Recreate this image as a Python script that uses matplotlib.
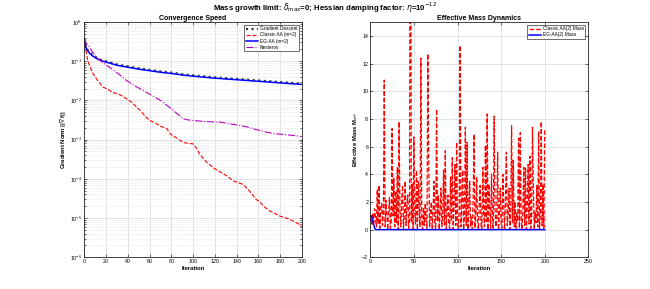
import matplotlib
matplotlib.use("Agg")
import matplotlib.pyplot as plt
import numpy as np
from matplotlib.ticker import LogLocator, NullFormatter, MultipleLocator, FixedLocator

plt.rcParams['font.family'] = ['Liberation Sans', 'DejaVu Sans']
plt.rcParams['mathtext.fontset'] = 'dejavusans'

# ---------------- Left panel data (convergence) ----------------
gd_iter = [0, 1, 2, 3, 5, 8, 12, 16, 20, 25, 30, 40, 50, 60, 70, 80, 90, 100, 120, 140, 160, 180, 200]
gd_vals = [0.38, 0.263, 0.219, 0.195, 0.166, 0.141, 0.120, 0.107, 0.100, 0.0912, 0.0832, 0.0741,
           0.0661, 0.0603, 0.0550, 0.0513, 0.0468, 0.0437, 0.0389, 0.0355, 0.0324, 0.0295, 0.0269]
egaa_vals = [0.37, 0.25, 0.208, 0.185, 0.158, 0.134, 0.114, 0.102, 0.095, 0.0866, 0.079, 0.0704,
             0.0628, 0.0573, 0.0523, 0.0487, 0.0445, 0.0415, 0.037, 0.0337, 0.0308, 0.028, 0.0256]

aa_iter = [0, 1, 2, 3, 5, 8, 12, 17, 22, 26, 30, 35, 39, 44, 48, 52, 57, 60, 65, 70, 76, 79, 85,
           91, 96, 100, 103, 106, 110, 113, 119, 125, 131, 137, 146, 152, 158, 162, 165, 171, 180,
           189, 198, 200]
aa_vals = [0.38, 0.22, 0.16, 0.11, 0.075, 0.048, 0.033, 0.022, 0.019, 0.016, 0.015, 0.013, 0.011,
           0.0088, 0.0068, 0.0053, 0.0037, 0.0031, 0.0027, 0.0022, 0.0019, 0.0014, 0.0011,
           0.00085, 0.00080, 0.00078, 0.00062, 0.00043, 0.00032, 0.00026, 0.00019, 0.00015,
           0.00012, 0.000089, 0.000072, 0.000049, 0.000030, 0.000025, 0.000020, 0.000015,
           0.0000112, 0.0000093, 0.0000069, 0.0000059]

nes_iter = [0, 1, 2, 4, 7, 10, 14, 20, 27, 33, 39, 46, 54, 62, 70, 76, 82, 87, 91, 95, 100, 110,
            125, 135, 143, 150, 155, 162, 170, 177, 190, 200]
nes_vals = [0.38, 0.32, 0.28, 0.25, 0.18, 0.14, 0.107, 0.08, 0.059, 0.044, 0.032, 0.024, 0.018,
            0.0135, 0.010, 0.0075, 0.0055, 0.0042, 0.0034, 0.0032, 0.0031, 0.0029, 0.0028,
            0.0025, 0.0023, 0.0021, 0.0019, 0.0017, 0.0015, 0.0014, 0.0013, 0.0012]

left_yticks = [1e-6, 1e-5, 1e-4, 1e-3, 1e-2, 1e-1, 1e0]

# ---------------- Right panel data (effective mass) ----------------
aa_mass = [0.6, 0.9, 0.3, 1.2, 0.5, 1.5, 0.8, 0.2, 2.9, 0.4,
           3.2, 0.1, 1.6, 1.9, 0.3, 1.2, 10.8, 0.2, 2.1, 1.0,
           0.0, 1.4, 2.3, 0.1, 0.6, 7.3, 1.0, 3.7, 0.2, 2.8,
           0.5, 4.5, 0.0, 7.8, 1.3, 0.2, 2.0, 3.2, 0.0, 1.1,
           3.5, 0.3, 1.8, 2.5, 0.1, 1.0, 40.0, 0.5, 3.3, 0.0,
           6.7, 1.2, 0.4, 4.3, 0.0, 3.5, 1.5, 0.2, 12.4, 0.8,
           0.0, 1.6, 0.3, 1.9, 0.6, 0.1, 12.7, 4.7, 0.2, 1.1,
           2.0, 0.0, 1.4, 3.5, 0.4, 0.0, 8.7, 0.6, 2.5, 0.0,
           1.3, 3.0, 0.2, 0.9, 4.3, 0.3, 5.7, 0.0, 1.2, 2.5,
           0.4, 0.1, 3.8, 0.6, 5.2, 0.0, 1.7, 4.7, 0.3, 6.3,
           0.5, 0.0, 1.5, 13.3, 0.2, 1.8, 4.3, 0.0, 1.0, 7.4,
           0.3, 6.3, 0.0, 1.5, 3.5, 0.2, 0.9, 0.0, 2.4, 6.9,
           0.1, 1.1, 3.8, 0.4, 0.0, 1.9, 3.2, 0.3, 0.0, 4.5,
           1.2, 0.2, 6.1, 0.6, 8.35, 0.0, 3.3, 1.4, 0.1, 4.0,
           0.7, 0.0, 8.2, 1.6, 0.2, 0.8, 5.6, 0.0, 1.3, 3.0,
           0.4, 0.1, 4.0, 1.8, 0.0, 2.2, 5.6, 0.3, 1.0, 3.0,
           0.0, 1.4, 7.5, 0.5, 5.0, 0.2, 2.0, 0.0, 1.2, 0.6,
           6.6, 0.1, 7.0, 0.8, 0.0, 1.5, 4.5, 0.3, 4.5, 0.0,
           1.7, 4.7, 0.4, 5.3, 0.1, 1.0, 7.4, 3.0, 0.0, 1.3,
           0.5, 3.2, 0.2, 7.1, 0.0, 1.2, 7.8, 0.3, 3.3, 0.0,
           7.2]
eg_mass_head = [1.0, 1.0, 0.85, 0.6, 0.35, 0.1]
mass_iter = list(range(len(aa_mass)))
eg_mass = eg_mass_head + [0.0] * (len(aa_mass) - len(eg_mass_head))
ref_level = [1.0] * len(aa_mass)

# ---------------- Figure ----------------
fig = plt.figure(figsize=(6.5, 2.89), dpi=100)
ax1 = fig.add_axes([0.1297, 0.1097, 0.3345, 0.8142])
ax2 = fig.add_axes([0.5697, 0.1097, 0.3354, 0.8142])

tick_fs = 3.8
lab_fs = 4.2

# Left panel
ax1.semilogy(gd_iter, gd_vals, ':', color='#333333', lw=1.5, label='Gradient Descent')
ax1.semilogy(aa_iter, aa_vals, '--', color='r', lw=0.8, label='Classic AA (m=2)')
ax1.semilogy(gd_iter, egaa_vals, '-', color='b', lw=1.1, label='EG-AA (m=2)')
ax1.semilogy(nes_iter, nes_vals, '-.', color='m', lw=0.8, label='Nesterov')
ax1.set_xlim(0, 200)
ax1.set_ylim(1e-6, 1e0)
ax1.xaxis.set_major_locator(MultipleLocator(20))
ax1.yaxis.set_major_locator(FixedLocator(left_yticks))
ax1.yaxis.set_minor_locator(LogLocator(base=10, subs=np.arange(2, 10), numticks=10))
ax1.yaxis.set_minor_formatter(NullFormatter())
ax1.grid(True, which='major', color='#d9d9d9', lw=0.5)
ax1.grid(True, which='minor', axis='y', color='#e3e3e3', lw=0.4, ls='--')
ax1.set_title('Convergence Speed', fontsize=5, fontweight='bold', pad=1.5)
ax1.set_xlabel('Iteration', fontsize=lab_fs, fontweight='bold', labelpad=1.5)
ax1.set_ylabel(r'Gradient Norm ||$\nabla$ f||', fontsize=lab_fs, fontweight='bold', labelpad=1.5)
leg1 = ax1.legend(loc='upper right', fontsize=3.4, frameon=True, fancybox=False,
                  edgecolor='k', borderpad=0.3, labelspacing=0.25, handlelength=2.6,
                  handletextpad=0.4, borderaxespad=0.6)
leg1.get_frame().set_linewidth(0.5)

# Right panel
ax2.plot(mass_iter, ref_level, '--', color='#999999', lw=0.5, alpha=0.6)
ax2.plot(mass_iter, aa_mass, '--', color='r', lw=0.9, label='Classic AA(2) Mass')
ax2.plot(mass_iter, eg_mass, '-', color='b', lw=1.1, label='EG-AA(2) Mass')
ax2.set_xlim(0, 250)
ax2.set_ylim(-2, 15)
ax2.xaxis.set_major_locator(MultipleLocator(50))
ax2.yaxis.set_major_locator(FixedLocator([-2, 0, 2, 4, 6, 8, 10, 12, 14]))
ax2.grid(True, which='major', color='#d9d9d9', lw=0.5)
ax2.set_title('Effective Mass Dynamics', fontsize=5, fontweight='bold', pad=1.5)
ax2.set_xlabel('Iteration', fontsize=lab_fs, fontweight='bold', labelpad=1.5)
ax2.set_ylabel(r'Effective Mass M$_{eff}$', fontsize=lab_fs, fontweight='bold', labelpad=1.5)
leg2 = ax2.legend(loc='upper right', fontsize=3.4, frameon=True, fancybox=False,
                  edgecolor='k', borderpad=0.3, labelspacing=0.25, handlelength=2.6,
                  handletextpad=0.4, borderaxespad=0.6)
leg2.get_frame().set_linewidth(0.5)

for ax in (ax1, ax2):
    ax.tick_params(which='both', direction='in', top=True, right=True, labelsize=tick_fs,
                   pad=1.5, width=0.4)
    ax.tick_params(which='major', length=2.5)
    ax.tick_params(which='minor', length=1.3)
    ax.set_axisbelow(True)
    for s in ax.spines.values():
        s.set_linewidth(0.6)
        s.set_color('#262626')

fig.text(0.5, 0.997,
         r'Mass growth limit: $\delta_{\rm max}$=0; Hessian damping factor: $\eta$=10$^{-12}$',
         fontsize=5.6, fontweight='bold', ha='center', va='top')

fig.savefig('out.png', dpi=100)
